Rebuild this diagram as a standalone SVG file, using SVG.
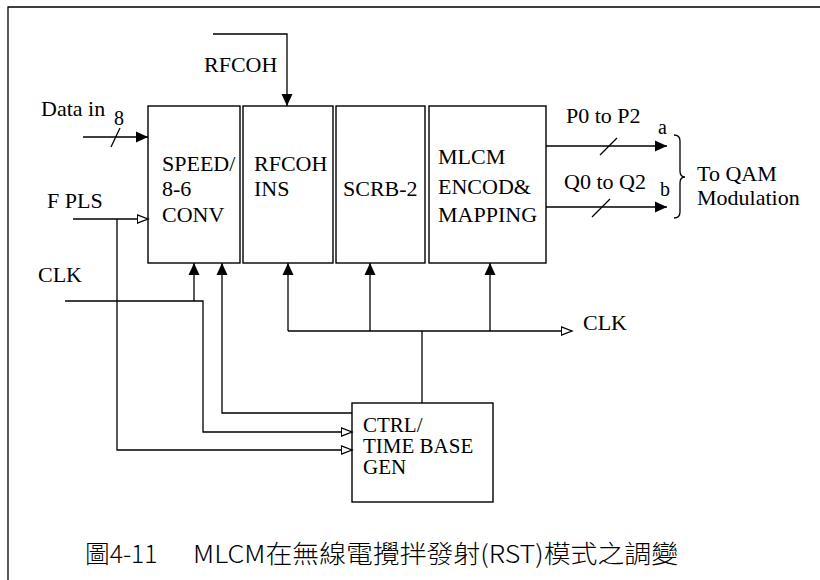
<svg xmlns="http://www.w3.org/2000/svg" width="820" height="580" viewBox="0 0 820 580">
<style>
  .ln{fill:none;stroke:#000;stroke-width:1.3}
  .box{fill:#fff;stroke:#000;stroke-width:1.4}
  text{font-family:'Liberation Serif','Times New Roman',serif;font-size:22px;fill:#000}
  .s{font-size:20px}
  .c{font-size:21px}
  text.cap{font-family:'Noto Sans CJK TC','Noto Sans CJK SC',sans-serif;font-size:25px;font-weight:300}
</style>
<defs>
  <marker id="af" markerUnits="userSpaceOnUse" markerWidth="13" markerHeight="12" refX="12" refY="6" orient="auto" viewBox="0 0 13 12">
    <path d="M0,0.5 L12,6 L0,11.5 z" fill="#000"/>
  </marker>
  <marker id="ah" markerUnits="userSpaceOnUse" markerWidth="13" markerHeight="11" refX="11.5" refY="5" orient="auto" viewBox="0 0 13 11">
    <path d="M0.8,0.8 L11.5,5 L0.8,9.2 z" fill="#fff" stroke="#000" stroke-width="1.3"/>
  </marker>
</defs>
<rect width="820" height="580" fill="#fff"/>
<polyline class="ln" points="8,580 8,7 820,7"/>

<g id="speed">
  <rect class="box" x="148" y="106" width="92" height="157"/>
  <text x="162" y="171">SPEED/</text>
  <text x="162" y="196">8-6</text>
  <text x="162" y="222">CONV</text>
</g>
<g id="rfcohins">
  <rect class="box" x="243" y="106" width="90" height="157"/>
  <text x="254" y="171">RFCOH</text>
  <text x="254" y="196">INS</text>
</g>
<g id="scrb">
  <rect class="box" x="336" y="106" width="89" height="157"/>
  <text x="343" y="196">SCRB-2</text>
</g>
<g id="mlcm">
  <rect class="box" x="429" y="106" width="117" height="157"/>
  <text x="438" y="164">MLCM</text>
  <text x="438" y="194">ENCOD&amp;</text>
  <text x="438" y="222">MAPPING</text>
</g>
<g id="ctrl">
  <rect class="box" x="352" y="403" width="141" height="99"/>
  <text class="c" x="363" y="432">CTRL/</text>
  <text class="c" x="363" y="453">TIME BASE</text>
  <text class="c" x="363" y="474">GEN</text>
</g>

<g id="connectors">
  <polyline class="ln" points="213,34 287,34 287,106" marker-end="url(#af)"/>
  <line class="ln" x1="83" y1="137" x2="148" y2="137" marker-end="url(#af)"/>
  <line class="ln" x1="111" y1="147" x2="120" y2="128"/>
  <line class="ln" x1="73" y1="219" x2="148" y2="219" marker-end="url(#ah)"/>
  <polyline class="ln" points="117,219 117,450 352,450" marker-end="url(#ah)"/>
  <polyline class="ln" points="65,301 203,301 203,432 352,432" marker-end="url(#ah)"/>
  <line class="ln" x1="194" y1="301" x2="194" y2="263" marker-end="url(#af)"/>
  <polyline class="ln" points="352,413 222,413 222,263" marker-end="url(#af)"/>
  <line class="ln" x1="422" y1="403" x2="422" y2="331"/>
  <line class="ln" x1="288" y1="331" x2="572" y2="331" marker-end="url(#ah)"/>
  <line class="ln" x1="288" y1="331" x2="288" y2="263" marker-end="url(#af)"/>
  <line class="ln" x1="370" y1="331" x2="370" y2="263" marker-end="url(#af)"/>
  <line class="ln" x1="490" y1="331" x2="490" y2="263" marker-end="url(#af)"/>
  <line class="ln" x1="546" y1="146" x2="667" y2="146" marker-end="url(#af)"/>
  <line class="ln" x1="600" y1="155" x2="617" y2="138"/>
  <line class="ln" x1="546" y1="207" x2="667" y2="207" marker-end="url(#af)"/>
  <line class="ln" x1="592" y1="217" x2="610" y2="199"/>
  <path class="ln" stroke-width="1" d="M674,135 Q680,135 680,141 L680,171 Q680,177 685,177 Q680,177 680,183 L680,212 Q680,218 674,218"/>
</g>

<g id="labels">
  <text x="204" y="72">RFCOH</text>
  <text x="41" y="116">Data in</text>
  <text class="s" x="114" y="125">8</text>
  <text x="47" y="208">F PLS</text>
  <text x="38" y="282">CLK</text>
  <text x="583" y="330">CLK</text>
  <text x="566" y="123">P0 to P2</text>
  <text class="s" x="658" y="134">a</text>
  <text x="564" y="189">Q0 to Q2</text>
  <text class="s" x="660" y="196">b</text>
  <text x="697" y="181">To QAM</text>
  <text x="697" y="205">Modulation</text>
</g>

<text class="cap" y="563"><tspan x="85" textLength="78" lengthAdjust="spacingAndGlyphs">圖4-11 </tspan><tspan x="193" textLength="485" lengthAdjust="spacingAndGlyphs">MLCM在無線電攪拌發射(RST)模式之調變</tspan></text>
</svg>
